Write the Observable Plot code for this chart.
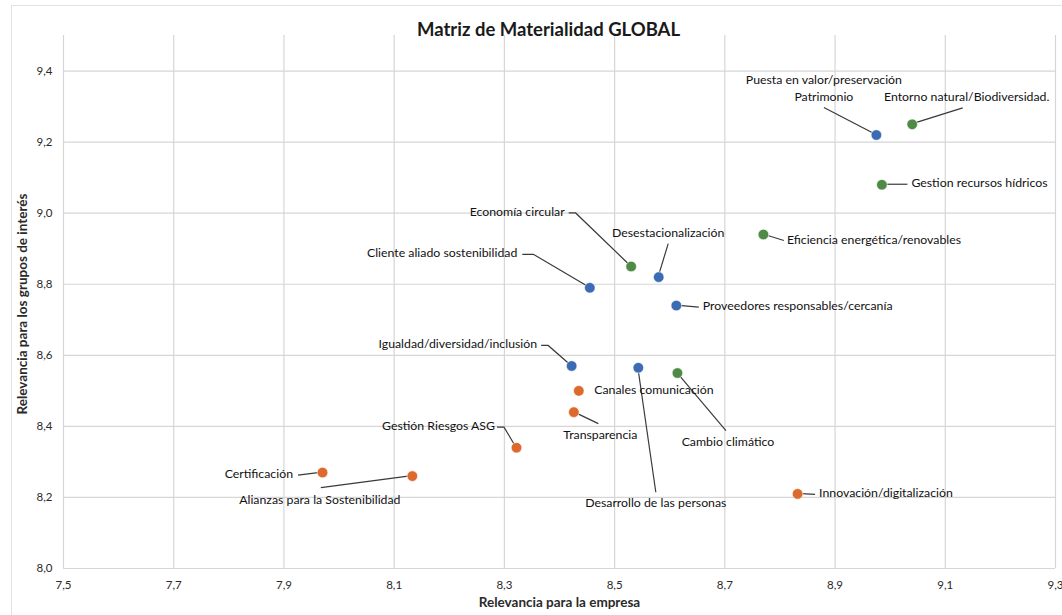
<!DOCTYPE html>
<html><head><meta charset="utf-8">
<script src="https://cdn.jsdelivr.net/npm/d3@7"></script>
<script src="https://cdn.jsdelivr.net/npm/@observablehq/plot@0.6"></script>
<style>
body{margin:0;background:#fff;}
#chart{position:relative;width:1062px;height:615px;overflow:hidden;}
#frame{position:absolute;left:11px;top:5px;right:-2px;bottom:-2px;border-top:1px solid #e2e2e2;border-left:1px solid #e2e2e2;pointer-events:none;}
</style></head><body><div id="chart"><div id="frame"></div></div>
<script>
// ---- data ----
const chartTitle = "Matriz de Materialidad GLOBAL";
const xTitle = "Relevancia para la empresa";
const yTitle = "Relevancia para los grupos de interés";
const topics = [
  "Puesta en valor/preservación\nPatrimonio",
  "Entorno natural/Biodiversidad.",
  "Gestion recursos hídricos",
  "Eficiencia energética/renovables",
  "Desestacionalización",
  "Economía circular",
  "Cliente aliado sostenibilidad",
  "Proveedores responsables/cercanía",
  "Igualdad/diversidad/inclusión",
  "Desarrollo de las personas",
  "Cambio climático",
  "Canales comunicación",
  "Transparencia",
  "Innovación/digitalización",
  "Gestión Riesgos ASG",
  "Certificación",
  "Alianzas para la Sostenibilidad"
];
const empresa = [8.975, 9.04, 8.985, 8.77, 8.58, 8.53, 8.455, 8.612, 8.422, 8.543, 8.614, 8.435, 8.426, 8.832, 8.322, 7.97, 8.133];
const grupos  = [9.22, 9.25, 9.08, 8.94, 8.82, 8.85, 8.79, 8.74, 8.57, 8.565, 8.55, 8.50, 8.44, 8.21, 8.34, 8.27, 8.26];
const dimension = ["Social","Ambiental","Ambiental","Ambiental","Social","Ambiental","Social","Social","Social","Social","Ambiental","Gobernanza","Gobernanza","Gobernanza","Gobernanza","Gobernanza","Gobernanza"];
const dimensions = ["Social","Ambiental","Gobernanza"];
const xTicks = [7.5, 7.7, 7.9, 8.1, 8.3, 8.5, 8.7, 8.9, 9.1, 9.3];
const yTicks = [8.0, 8.2, 8.4, 8.6, 8.8, 9.0, 9.2, 9.4];

// ---- layout / style (pixel offsets of labels and leader lines from each point) ----
const labelLayout = [
  {dx:-52, dy:-53, anchor:"middle", leader:[[-52,-27],[0,0]]},
  {dx:55, dy:-26, anchor:"middle", leader:[[51,-16],[0,0]]},
  {dx:30, dy:0, anchor:"start", leader:[[26,0],[0,0]]},
  {dx:24, dy:7, anchor:"start", leader:[[21,6.5],[0,0]]},
  {dx:10, dy:-43, anchor:"middle", leader:[[10,-33],[0,0]]},
  {dx:-66, dy:-53, anchor:"end", leader:[[-62,-53],[-55,-53],[0,0]]},
  {dx:-72, dy:-33, anchor:"end", leader:[[-67,-33],[-56,-33],[0,0]]},
  {dx:27, dy:2, anchor:"start", leader:[[23,2],[0,0]]},
  {dx:-34, dy:-20, anchor:"end", leader:[[-30,-20],[-23,-20],[0,0]]},
  {dx:18, dy:137, anchor:"middle", leader:[[18,125],[0,0]]},
  {dx:51, dy:70, anchor:"middle", leader:[[49,58],[0,0]]},
  {dx:16, dy:1, anchor:"start", leader:null},
  {dx:27, dy:24, anchor:"middle", leader:[[25,12],[0,0]]},
  {dx:22, dy:1, anchor:"start", leader:[[18,1],[0,0]]},
  {dx:-21, dy:-20, anchor:"end", leader:[[-19,-20],[-12,-20],[0,0]]},
  {dx:-29, dy:3, anchor:"end", leader:[[-24,3],[0,0]]},
  {dx:-92, dy:25, anchor:"middle", leader:[[-91,12],[0,0]]}
];
const FONT = "Lato, 'Open Sans', sans-serif";
const LABEL_SIZE = 12.3;

const rows = topics.map((t, i) => ({topic: t, empresa: empresa[i], grupos: grupos[i], dimension: dimension[i]}));
const fmt = d => d3.format(".1f")(d).replace(".", ",");

function leaders(index, scales) {
  const g = d3.create("svg:g").attr("fill", "none").attr("stroke", "#3a3a3a").attr("stroke-width", 1.2);
  rows.forEach((r, i) => {
    const L = labelLayout[i];
    if (!L.leader) return;
    const px = scales.x(r.empresa), py = scales.y(r.grupos);
    g.append("path").attr("d", d3.line()(L.leader.map(([a, b]) => [px + a, py + b])));
  });
  return g.node();
}
function labels(index, scales) {
  const g = d3.create("svg:g").attr("font-family", FONT).attr("font-size", LABEL_SIZE).attr("fill", "#111");
  rows.forEach((r, i) => {
    const L = labelLayout[i];
    const px = scales.x(r.empresa), py = scales.y(r.grupos);
    const lines = r.topic.split("\n");
    const t = g.append("text").attr("text-anchor", L.anchor).attr("x", px + L.dx).attr("y", py + L.dy).attr("dominant-baseline", "middle");
    lines.forEach((ln, k) => t.append("tspan").attr("x", px + L.dx).attr("dy", k === 0 ? 0 : 17).text(ln));
  });
  return g.node();
}

const plot = Plot.plot({
  width: 1062, height: 615,
  marginLeft: 63, marginRight: 7, marginTop: 35, marginBottom: 47,
  style: {fontFamily: FONT, background: "transparent", overflow: "visible"},
  x: {domain: [7.5, 9.3]},
  y: {domain: [8.0, 9.5]},
  color: {domain: dimensions, range: ["#3b6cb3", "#4f8a47", "#dd6a2c"]},
  marks: [
    Plot.gridX(xTicks, {stroke: "#d6d6d6", strokeOpacity: 1, strokeWidth: 1.2}),
    Plot.gridY(yTicks, {stroke: "#d6d6d6", strokeOpacity: 1, strokeWidth: 1.2}),
    Plot.axisX(xTicks, {tickFormat: fmt, tickSize: 0, tickPadding: 12, fontSize: 11.5, fill: "#2a2a2a", label: null}),
    Plot.axisY(yTicks, {tickFormat: fmt, tickSize: 0, tickPadding: 11, fontSize: 11.5, fill: "#2a2a2a", label: null}),
    leaders,
    Plot.dot(rows, {x: "empresa", y: "grupos", fill: "dimension", r: 5.3, stroke: "#ffffff", strokeWidth: 0.6}),
    labels,
    Plot.text([chartTitle], {frameAnchor: "top", dy: -13, dx: -11, text: d => d, fontSize: 18.5, fontWeight: "bold", fill: "#1a1a1a"}),
    Plot.text([xTitle], {frameAnchor: "bottom", dy: 38, text: d => d, fontSize: 13.5, fontWeight: "bold", fill: "#2a2a2a"}),
    Plot.text([yTitle], {frameAnchor: "left", textAnchor: "middle", dx: -41, dy: 2, rotate: -90, text: d => d, fontSize: 13.5, fontWeight: "bold", fill: "#2a2a2a", letterSpacing: "1.8px"})
  ]
});
document.getElementById("chart").appendChild(plot);
</script>
</body></html>
